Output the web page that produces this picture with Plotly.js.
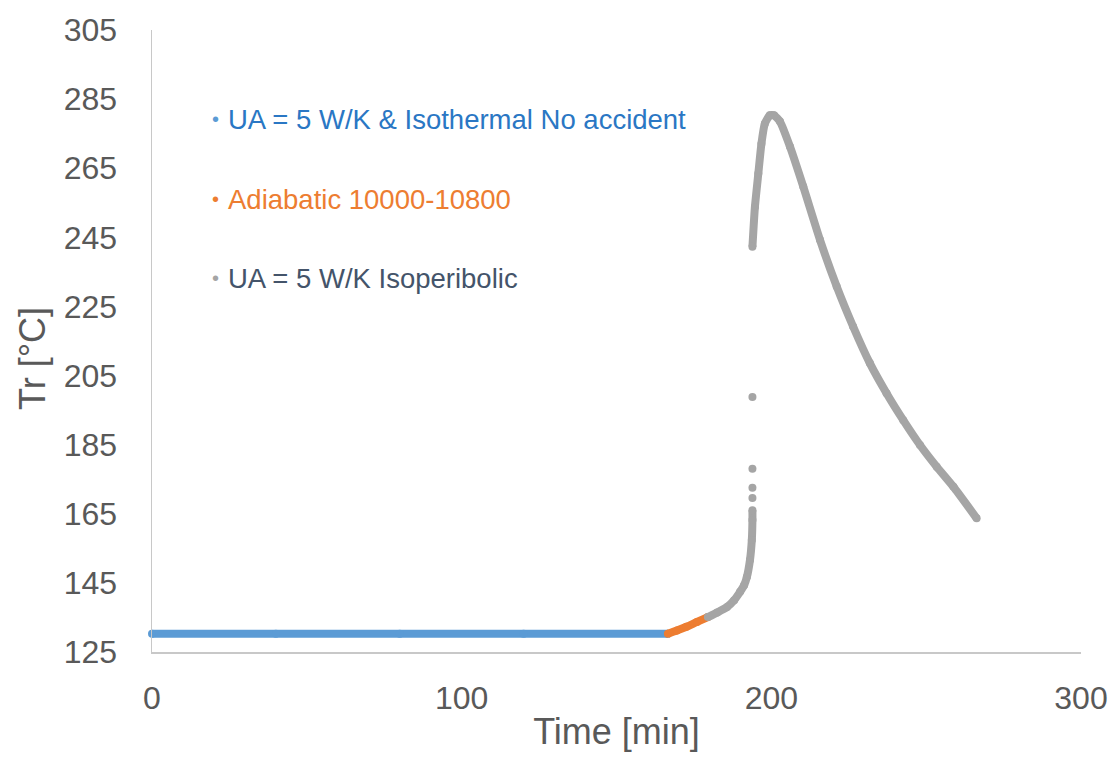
<!DOCTYPE html>
<html>
<head>
<meta charset="utf-8">
<script src="https://cdn.plot.ly/plotly-3.0.1.min.js"></script>
<style>html,body{margin:0;padding:0;background:#fff;}#chart{width:1117px;height:758px;}</style>
</head>
<body>
<div id="chart"></div>
<script>
// Series names
const seriesNames = ["UA = 5 W/K & Isothermal No accident", "Adiabatic 10000-10800", "UA = 5 W/K Isoperibolic"];

// Isothermal (blue)
const isoTime = [0, 40, 80, 120, 166.6];
const isoTr = [130.3, 130.3, 130.3, 130.3, 130.3];

// Adiabatic (orange)
const adiTime = [166.6, 169.5, 172.6, 176.0, 179.5];
const adiTr = [130.3, 131.2, 132.3, 133.7, 135.1];

// Isoperibolic (gray), null = break between separate points
const isoperTime = [179.5, 182.5, 185.7, 188.0, 189.9, 191.2, 192.1, 193.1, 193.7, 193.9, 193.9, null, 193.9, null, 193.9, null, 193.9, null, 193.9, null,
  193.9, 194.7, 195.8, 196.8, 197.9, 199.5, 200.9, 202.8, 206.0, 210.3, 215.7, 221.1, 226.4, 231.8, 237.2, 242.6, 248.0, 253.4, 258.8, 266.3];
const isoperTr = [135.1, 136.4, 138.0, 140.0, 142.4, 144.3, 146.7, 151.6, 157.4, 163.2, 166.0, null, 169.6, null, 172.5, null, 178.0, null, 198.8, null,
  242.3, 253.8, 263.5, 272.1, 277.9, 280.3, 280.3, 278.5, 271.3, 259.7, 244.3, 230.8, 219.2, 208.6, 199.9, 192.1, 184.9, 178.6, 172.8, 163.7];

const markerColors = ["#5B9BD5", "#ED7D31", "#A5A5A5"];
const textColors = ["#2A77C4", "#ED7D31", "#44546A"];

function mk(x, y, i) {
  return {
    x: x, y: y, type: "scatter", mode: "lines+markers", name: seriesNames[i],
    line: {color: markerColors[i], width: 8, shape: "spline", smoothing: 0.5},
    marker: {color: markerColors[i], size: 8, line: {width: 0}},
    connectgaps: false, cliponaxis: false, showlegend: false, hoverinfo: "x+y"
  };
}

const traces = [mk(isoTime, isoTr, 0), mk(adiTime, adiTr, 1), mk(isoperTime, isoperTr, 2)];

const FONT = "Liberation Sans, Arial, sans-serif";
const legendY = [119, 199, 278];
const annotations = [];
seriesNames.forEach((n, i) => {
  annotations.push({
    xref: "paper", yref: "paper",
    x: (215 - 152) / (1081 - 152), y: 1 - (legendY[i] - 30) / (652 - 30),
    xanchor: "center", yanchor: "middle", showarrow: false,
    text: "•", font: {family: FONT, size: 20, color: markerColors[i]}
  });
  annotations.push({
    xref: "paper", yref: "paper",
    x: (226 - 152) / (1081 - 152), y: 1 - (legendY[i] - 30) / (652 - 30),
    xanchor: "left", yanchor: "middle", showarrow: false,
    text: n, font: {family: FONT, size: 27.5, color: textColors[i]}
  });
});
// y axis title
annotations.push({
  xref: "paper", yref: "paper",
  x: (32 - 152) / (1081 - 152), y: 1 - (359 - 30) / (652 - 30),
  xanchor: "center", yanchor: "middle", showarrow: false, textangle: -90,
  text: "Tr [°C]", font: {family: FONT, size: 36, color: "#595959"}
});

const layout = {
  width: 1117, height: 758,
  margin: {l: 152, r: 36, t: 30, b: 106},
  paper_bgcolor: "#ffffff", plot_bgcolor: "#ffffff",
  font: {family: FONT, color: "#595959"},
  xaxis: {
    range: [0, 300], tickvals: [0, 100, 200, 300], showgrid: false, zeroline: false,
    showline: true, linecolor: "#C8C8C8", linewidth: 1.5, ticks: "",
    ticklabelstandoff: 17,
    tickfont: {size: 32, color: "#595959"},
    title: {text: "Time [min]", font: {size: 36, color: "#595959"}, standoff: 4}
  },
  yaxis: {
    range: [125, 305], tickvals: [125, 145, 165, 185, 205, 225, 245, 265, 285, 305], showgrid: false, zeroline: false,
    showline: true, linecolor: "#C8C8C8", linewidth: 1.5, ticks: "",
    ticklabelstandoff: 27,
    tickfont: {size: 32, color: "#595959"}
  },
  annotations: annotations,
  showlegend: false
};

Plotly.newPlot("chart", traces, layout, {displayModeBar: false, staticPlot: true});
</script>
</body>
</html>
